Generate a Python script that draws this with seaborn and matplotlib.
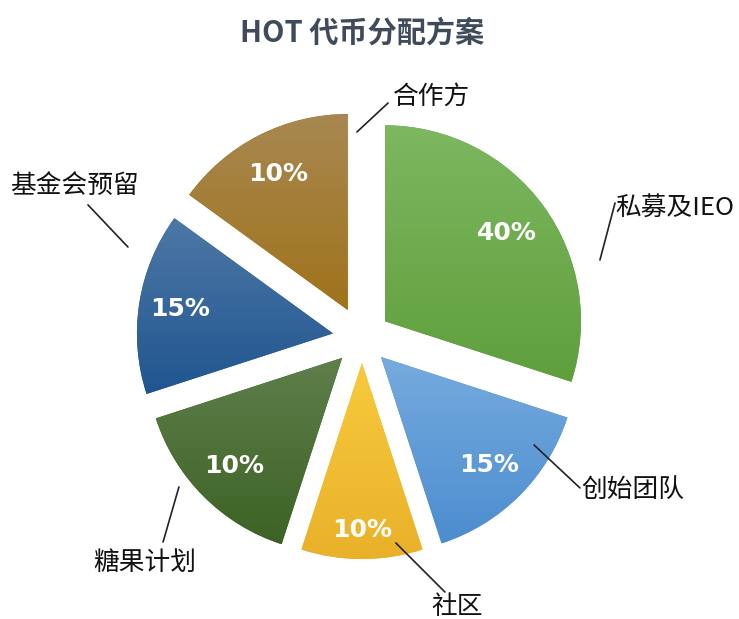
import matplotlib
matplotlib.use("Agg")
import matplotlib.pyplot as plt
import numpy as np
import seaborn as sns
from matplotlib.colors import LinearSegmentedColormap

# slices, clockwise from 12 o'clock
categories = ["私募及IEO", "创始团队", "社区", "糖果计划", "基金会预留", "合作方"]
shares = [40, 15, 10, 10, 15, 10]              # percentages printed on the slices
drawn_angles = [108, 54, 36, 54, 54, 54]       # slice sizes as drawn in the picture (degrees)

# styling / layout
top_colors = ["#7db760", "#76abde", "#f8ca3c", "#5f7f4b", "#4d78a6", "#a88852"]
bottom_colors = ["#5f9f3c", "#4c8dcf", "#e9b12a", "#3c6224", "#20558f", "#a0731a"]
explode = [0.145, 0.137, 0.128, 0.143, 0.15, 0.16]
pct_dist = [0.77, 0.78, 0.85, 0.78, 0.79, 0.78]
# leader line (x0, y0, x1, y1) and label centre (xt, yt), in pie radius units
label_layout = [
    (1.214, 0.398, 1.291, 0.689, 1.597, 0.663),
    (0.878, -0.546, 1.112, -0.765, 1.383, -0.776),
    (0.173, -1.046, 0.423, -1.296, 0.485, -1.372),
    (-0.934, -0.760, -1.015, -1.041, -1.107, -1.148),
    (-1.194, 0.464, -1.398, 0.679, -1.469, 0.776),
    (-0.026, 1.051, 0.133, 1.199, 0.357, 1.230),
]

sns.set_theme(style="white")
plt.rcParams['font.family'] = ['Noto Sans CJK SC', 'DejaVu Sans']

fig = plt.figure(figsize=(7.39, 6.19), dpi=100)
ax = fig.add_axes([0, 0, 1, 1])

wedges, _ = ax.pie(drawn_angles, startangle=90, counterclock=False, explode=explode,
                   colors=bottom_colors, radius=1.0, wedgeprops=dict(linewidth=0))

# vertical gradient fill clipped to each wedge
for w, c_top, c_bot in zip(wedges, top_colors, bottom_colors):
    verts = w.get_path().vertices
    x0, y0 = verts.min(axis=0)
    x1, y1 = verts.max(axis=0)
    cmap = LinearSegmentedColormap.from_list("g", [c_top, c_bot])
    im = ax.imshow(np.linspace(0, 1, 256).reshape(-1, 1), cmap=cmap, origin="upper",
                   extent=(x0, x1, y0, y1), aspect="auto", zorder=w.get_zorder() + 0.1)
    im.set_clip_path(w)

# percentage labels
for w, s, d in zip(wedges, shares, pct_dist):
    theta = np.deg2rad((w.theta1 + w.theta2) / 2)
    cx, cy = w.center
    ax.text(cx + d * np.cos(theta), cy + d * np.sin(theta), f"{s}%",
            ha="center", va="center", color="white", fontsize=18, fontweight="bold",
            family="DejaVu Sans", zorder=5)

# category labels with leader lines
for cat, (lx0, ly0, lx1, ly1, tx, ty) in zip(categories, label_layout):
    ax.plot([lx0, lx1], [ly0, ly1], color="#222222", lw=1.2)
    ax.text(tx, ty, cat, ha="center", va="center", fontsize=18.5, color="#111111")

fig.text(362 / 739, 1 - 33 / 619, "HOT 代币分配方案", ha="center", va="center",
         fontsize=21, fontweight="bold", color="#3f4b5b")

ax.set_xlim(-362 / 196, (739 - 362) / 196)
ax.set_ylim((338 - 619) / 196, 338 / 196)
ax.set_aspect("equal")
ax.axis("off")

fig.savefig("out.png", dpi=100)
